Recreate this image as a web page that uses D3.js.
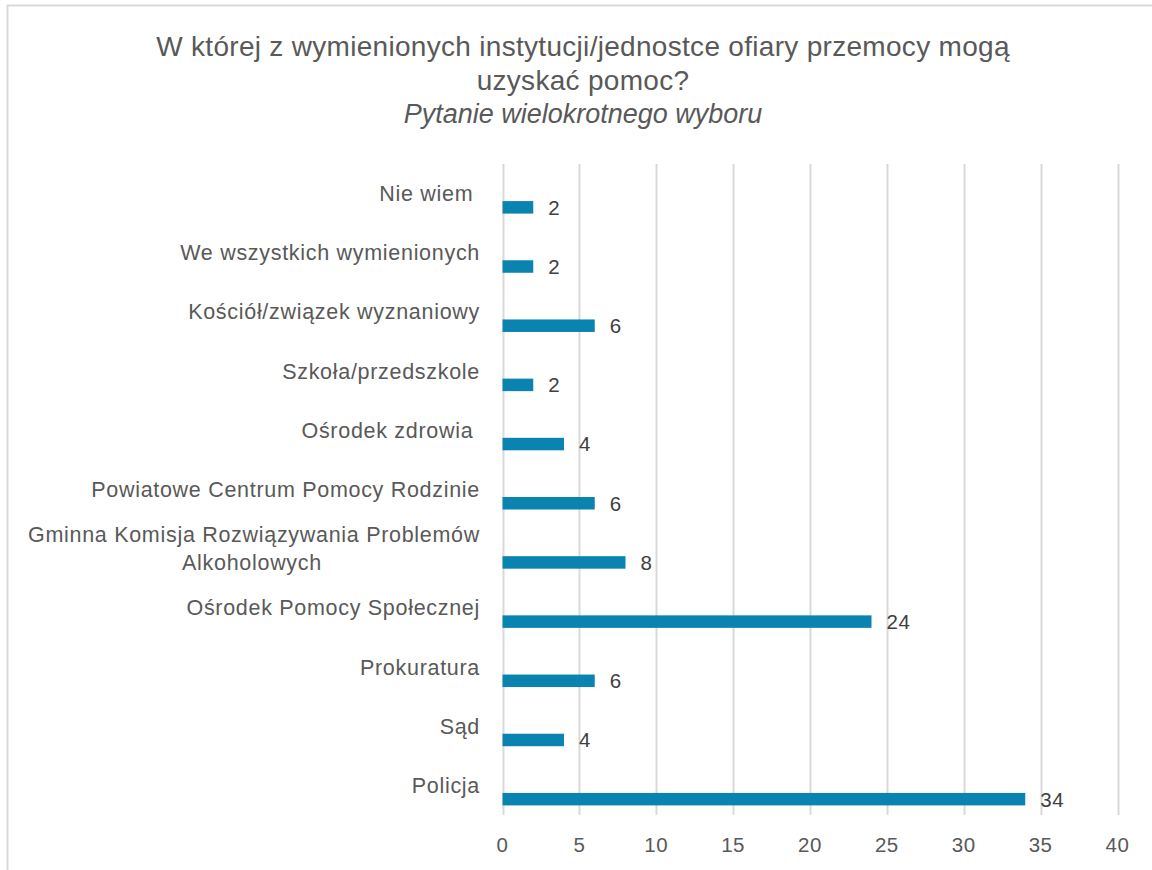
<!DOCTYPE html>
<html lang="pl">
    <head>
        <meta charset="utf-8">
        <title>Instytucje pomocy ofiarom przemocy</title>
        <script src="https://d3js.org/d3.v7.min.js"></script>
        <style type="text/css">
            body{
                margin: 0;
                background: #ffffff;
            }
            svg{
                display: block;
                font-family: "Liberation Sans", Arial, sans-serif;
            }
        </style>
    </head>
    <body>
        <svg width="1152" height="870"></svg>
        <script type="text/javascript">

            // categories top to bottom, as they appear in the chart
            const categories = [
                "Nie wiem ",
                "We wszystkich wymienionych",
                "Kościół/związek wyznaniowy",
                "Szkoła/przedszkole",
                "Ośrodek zdrowia ",
                "Powiatowe Centrum Pomocy Rodzinie",
                "Gminna Komisja Rozwiązywania Problemów|Alkoholowych",
                "Ośrodek Pomocy Społecznej",
                "Prokuratura",
                "Sąd",
                "Policja"
            ];
            const values = [2, 2, 6, 2, 4, 6, 8, 24, 6, 4, 34];
            const xTicks = [0, 5, 10, 15, 20, 25, 30, 35, 40];
            const titleLines = [
                "W której z wymienionych instytucji/jednostce ofiary przemocy mogą",
                "uzyskać pomoc?"
            ];
            const subtitle = "Pytanie wielokrotnego wyboru";

            const data = categories.map((c, i) => ({"name": c, "value": values[i]}));

            const svg = d3.select("svg");

            // chart border
            svg.append("rect")
                .attr("x", 7.5)
                .attr("y", 5.5)
                .attr("width", 1160)
                .attr("height", 880)
                .style("fill", "none")
                .style("stroke", "#d9d9d9")
                .style("stroke-width", 2);

            const x = d3.scaleLinear()
                        .domain([0, 40])
                        .range([502.5, 1117.5]);

            const y = d3.scaleBand()
                        .domain(categories)
                        .range([164, 815]);

            // gridlines
            svg.selectAll("line.grid")
                .data(xTicks)
                .join("line")
                .attr("class", "grid")
                .attr("x1", d=>Math.round(x(d)) + 0.5)
                .attr("x2", d=>Math.round(x(d)) + 0.5)
                .attr("y1", 164)
                .attr("y2", 815)
                .style("stroke", "#d9d9d9")
                .style("stroke-width", 2);

            // tick labels
            svg.selectAll("text.tick")
                .data(xTicks)
                .join("text")
                .attr("class", "tick")
                .attr("x", d=>x(d))
                .attr("y", 845)
                .attr("dy", "0.35em")
                .attr("text-anchor", "middle")
                .style("font-size", "20.5px")
                .style("letter-spacing", "0.5px")
                .style("fill", "#595959")
                .text(d=>d);

            // bars (sit in the lower half of each band)
            svg.selectAll("rect.bar")
                .data(data)
                .join("rect")
                .attr("class", "bar")
                .attr("x", x(0))
                .attr("y", d=>y(d.name) + y.bandwidth() / 2 + 7.5)
                .attr("width", d=>x(d.value) - x(0))
                .attr("height", 12.5)
                .style("fill", "#0a83b0");

            // data labels
            svg.selectAll("text.value")
                .data(data)
                .join("text")
                .attr("class", "value")
                .attr("x", d=>x(d.value) + 15)
                .attr("y", d=>y(d.name) + y.bandwidth() / 2 + 14)
                .attr("dy", "0.35em")
                .style("font-size", "20.5px")
                .style("letter-spacing", "0.5px")
                .style("fill", "#404040")
                .text(d=>d.value);

            // category labels
            const catLabels = svg.selectAll("text.cat")
                .data(data)
                .join("text")
                .attr("class", "cat")
                .attr("xml:space", "preserve")
                .style("white-space", "pre")
                .style("font-size", "21.5px")
                .style("letter-spacing", "0.7px")
                .style("fill", "#595959");

            catLabels.each(function(d) {
                const lines = d.name.split("|");
                const cy = y(d.name) + y.bandwidth() / 2;
                d3.select(this).selectAll("tspan")
                    .data(lines)
                    .join("tspan")
                    .attr("x", (l, i)=> lines.length > 1 && i == 1 ? 252 : 480)
                    .attr("text-anchor", (l, i)=> lines.length > 1 && i == 1 ? "middle" : "end")
                    .attr("y", (l, i)=> cy + (i - (lines.length - 1) / 2) * 28)
                    .attr("dy", "0.35em")
                    .text(l=>l);
            });

            // title
            svg.selectAll("text.title")
                .data(titleLines)
                .join("text")
                .attr("class", "title")
                .attr("x", 583)
                .attr("y", (d, i)=>46 + i * 34)
                .attr("dy", "0.35em")
                .attr("text-anchor", "middle")
                .style("font-size", "28px")
                .style("letter-spacing", "0.3px")
                .style("fill", "#595959")
                .text(d=>d);

            svg.append("text")
                .attr("x", 583)
                .attr("y", 114)
                .attr("dy", "0.35em")
                .attr("text-anchor", "middle")
                .style("font-size", "27px")
                .style("font-style", "italic")
                .style("fill", "#595959")
                .text(subtitle);

        </script>
    </body>
</html>
